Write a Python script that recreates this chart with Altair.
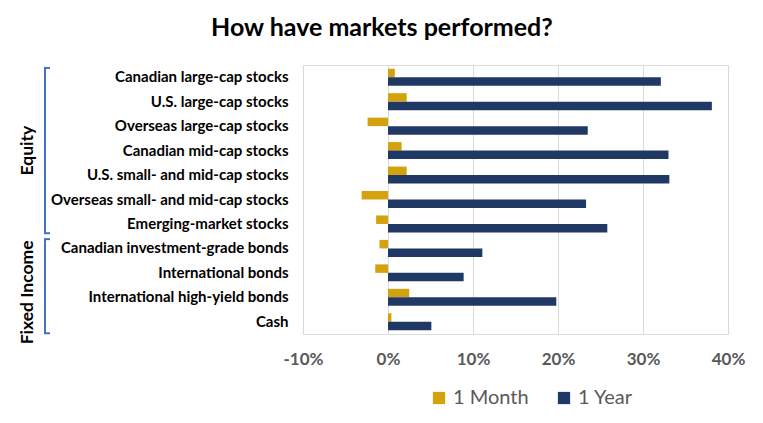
import altair as alt
import pandas as pd

categories = [
    "Canadian large-cap stocks",
    "U.S. large-cap stocks",
    "Overseas large-cap stocks",
    "Canadian mid-cap stocks",
    "U.S. small- and mid-cap stocks",
    "Overseas small- and mid-cap stocks",
    "Emerging-market stocks",
    "Canadian investment-grade bonds",
    "International bonds",
    "International high-yield bonds",
    "Cash",
]
one_month = [0.8, 2.2, -2.4, 1.6, 2.2, -3.1, -1.4, -1.0, -1.5, 2.5, 0.4]
one_year = [32.1, 38.1, 23.5, 33.0, 33.1, 23.3, 25.8, 11.1, 8.9, 19.8, 5.1]
series = ["1 Month", "1 Year"]
colors = ["#D4A20C", "#1F3864"]
x_ticks = [-10, 0, 10, 20, 30, 40]

group_names = ["Equity", "Fixed Income"]
group_start = [categories[0], categories[7]]
group_end = [categories[6], categories[10]]
group_label_anchor = [categories[3], categories[9]]
group_label_band = [0.5, 0.3]

rows = []
for c, m, y in zip(categories, one_month, one_year):
    rows.append({"cat": c, "series": series[0], "value": m})
    rows.append({"cat": c, "series": series[1], "value": y})
df = pd.DataFrame(rows)

FONT = "Lato"
yscale = alt.Scale(domain=categories, paddingInner=0, paddingOuter=0)

bars = alt.Chart(df).mark_bar().encode(
    x=alt.X(
        "value:Q",
        scale=alt.Scale(domain=[x_ticks[0], x_ticks[-1]], nice=False, zero=False),
        axis=alt.Axis(
            values=x_ticks,
            labelExpr="datum.value + '%'",
            title=None,
            grid=True,
            gridColor="#d9d9d9",
            domain=False,
            ticks=False,
            labelFlush=False,
            labelFont=FONT,
            labelFontSize=17,
            labelFontWeight="bold",
            labelColor="#595959",
            labelPadding=17,
        ),
    ),
    y=alt.Y(
        "cat:N",
        sort=categories,
        scale=yscale,
        axis=alt.Axis(
            title=None,
            domain=False,
            ticks=False,
            grid=False,
            labelFont=FONT,
            labelFontSize=15,
            labelFontWeight="bold",
            labelColor="#000000",
            labelPadding=15,
            labelLimit=400,
        ),
    ),
    yOffset=alt.YOffset(
        "series:N", sort=series,
        scale=alt.Scale(domain=series, paddingInner=0, paddingOuter=0.44),
    ),
    color=alt.Color(
        "series:N",
        sort=series,
        scale=alt.Scale(domain=series, range=colors),
        legend=alt.Legend(
            title=None,
            orient="none",
            direction="horizontal",
            legendX=126,
            legendY=323,
            symbolType="square",
            symbolSize=150,
            symbolStrokeWidth=0,
            labelFont=FONT,
            labelFontSize=20,
            labelColor="#595959",
            columnPadding=25,
            labelOffset=4,
        ),
    ),
)

layers = [bars]
BRX = -258
for i, g in enumerate(group_names):
    gdf = pd.DataFrame([{"group": g, "start": group_start[i], "end": group_end[i],
                         "anchor": group_label_anchor[i]}])
    bot_band = 0.88 if i == 0 else 0.97
    vline = alt.Chart(gdf).mark_rule(color="#4472C4", strokeWidth=2).encode(
        x=alt.value(BRX),
        y=alt.Y("start:N", bandPosition=0.12, scale=yscale, sort=categories),
        y2=alt.Y2("end:N", bandPosition=bot_band),
    )
    top_tick = alt.Chart(gdf).mark_rule(color="#4472C4", strokeWidth=2).encode(
        x=alt.value(BRX - 1),
        x2=alt.value(BRX + 5),
        y=alt.Y("start:N", bandPosition=0.12, scale=yscale, sort=categories),
    )
    bot_tick = alt.Chart(gdf).mark_rule(color="#4472C4", strokeWidth=2).encode(
        x=alt.value(BRX - 1),
        x2=alt.value(BRX + 5),
        y=alt.Y("end:N", bandPosition=bot_band, scale=yscale, sort=categories),
    )
    label = alt.Chart(gdf).mark_text(
        angle=270, font=FONT, fontSize=17.5, fontWeight="bold", color="#000000",
        align="center", baseline="middle",
    ).encode(
        x=alt.value(BRX - 17),
        y=alt.Y("anchor:N", bandPosition=group_label_band[i], scale=yscale, sort=categories),
        text="group:N",
    )
    layers += [vline, top_tick, bot_tick, label]

chart = alt.layer(*layers).properties(
    width=425,
    height=269,
    padding={"left": 10, "top": 8, "right": 2, "bottom": 5},
    title=alt.TitleParams(
        "How have markets performed?",
        font=FONT, fontSize=25, fontWeight="bold", color="#000000",
        anchor="middle", frame="bounds", offset=24,
    ),
).configure_view(stroke=None).configure(background="white")

chart.save("out.html", embed_options={"renderer": "svg", "actions": False})
